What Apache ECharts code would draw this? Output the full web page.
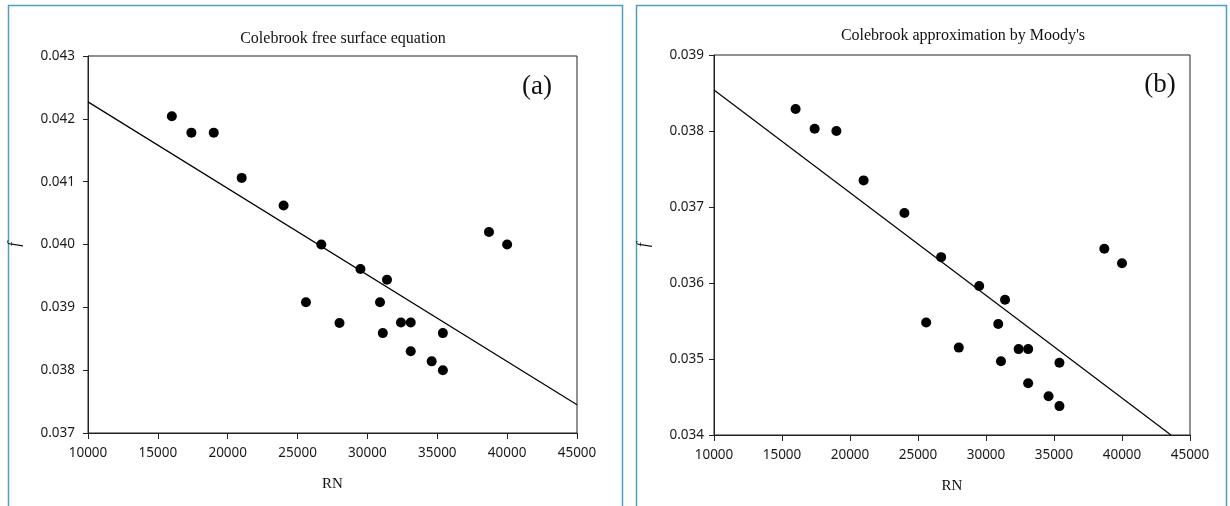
<!DOCTYPE html>
<html>
<head>
<meta charset="utf-8">
<script src="https://cdn.jsdelivr.net/npm/echarts@6/dist/echarts.min.js"></script>
<style>
  html, body { margin: 0; padding: 0; background: #fff; }
  #box { width: 1230px; height: 506px; }
</style>
</head>
<body>
<div id="box"></div>
<script>
// Reynolds numbers (shared by both panels)
const rn = [16000, 17400, 19000, 21000, 24000, 26700, 25600, 28000, 29500, 31400,
            30900, 31100, 32400, 33100, 33100, 34600, 35400, 35400, 38700, 40000]

// (a) Colebrook free surface equation
const fA = [0.04204, 0.04178, 0.04178, 0.04106, 0.04062, 0.04000, 0.03908, 0.03875, 0.03961, 0.03944,
            0.03908, 0.03859, 0.03876, 0.03876, 0.03830, 0.03814, 0.03800, 0.03859, 0.04020, 0.04000]

// (b) Colebrook approximation by Moody's
const fB = [0.03829, 0.03803, 0.03800, 0.03735, 0.03692, 0.03634, 0.03548, 0.03515, 0.03596, 0.03578,
            0.03546, 0.03497, 0.03513, 0.03513, 0.03468, 0.03451, 0.03438, 0.03495, 0.03645, 0.03626]

// trend line end points
const trendAx = [10000, 45000]
const trendAy = [0.04227, 0.03745]
const trendBx = [10000, 43600]
const trendBy = [0.03854, 0.03400]

const xTicks = { min: 10000, max: 45000, interval: 5000 }
const yTicksA = { min: 0.037, max: 0.043, interval: 0.001 }
const yTicksB = { min: 0.034, max: 0.039, interval: 0.001 }

const pair = (xs, ys) => xs.map((x, i) => [x, ys[i]])

const chart = echarts.init(document.getElementById('box'))

const labelFont = { fontFamily: 'Noto Sans', fontSize: 13.5, color: '#1a1a1a' }

function xAxisFor(gridIndex) {
    return {
        type: 'value', gridIndex, ...xTicks,
        name: 'RN', nameLocation: 'middle', nameGap: 44,
        nameTextStyle: { fontFamily: 'Liberation Serif', fontSize: 15, color: '#111' },
        axisLine: { show: true, lineStyle: { color: '#222', width: 1 } },
        axisTick: { show: true, length: 6, lineStyle: { color: '#222' } },
        axisLabel: { ...labelFont, margin: 13, formatter: v => String(v) },
        splitLine: { show: false }
    }
}

function yAxisFor(gridIndex, ticks, margin) {
    return {
        type: 'value', gridIndex, ...ticks,
        name: 'f', nameLocation: 'middle', nameGap: margin + 52, nameRotate: 90,
        nameTextStyle: { fontFamily: 'Liberation Serif', fontStyle: 'italic', fontSize: 16, color: '#111' },
        axisLine: { show: true, lineStyle: { color: '#222', width: 1 } },
        axisTick: { show: true, length: 5, lineStyle: { color: '#222' } },
        axisLabel: { ...labelFont, margin, formatter: v => v.toFixed(3) },
        splitLine: { show: false }
    }
}

const dots = (xi, data) => ({
    type: 'scatter', xAxisIndex: xi, yAxisIndex: xi, data,
    symbol: 'circle', symbolSize: 10, itemStyle: { color: '#000', opacity: 1 }, z: 3
})

const trend = (xi, data) => ({
    type: 'line', xAxisIndex: xi, yAxisIndex: xi, data,
    symbol: 'none', lineStyle: { color: '#000', width: 1.2 }, z: 2
})

chart.setOption({
    animation: false,
    title: [
        { text: 'Colebrook free surface equation', left: 338, top: 26, textAlign: 'center',
          textStyle: { fontFamily: 'Liberation Serif', fontSize: 16, fontWeight: 'normal', color: '#111' } },
        { text: "Colebrook approximation by Moody's", left: 958, top: 23, textAlign: 'center',
          textStyle: { fontFamily: 'Liberation Serif', fontSize: 16, fontWeight: 'normal', color: '#111' } }
    ],
    grid: [
        { left: 88, top: 56, width: 489, height: 377, show: true, borderColor: '#222', borderWidth: 1 },
        { left: 714, top: 55, width: 476, height: 380, show: true, borderColor: '#222', borderWidth: 1 }
    ],
    xAxis: [xAxisFor(0), xAxisFor(1)],
    yAxis: [yAxisFor(0, yTicksA, 13), yAxisFor(1, yTicksB, 10)],
    series: [
        trend(0, pair(trendAx, trendAy)),
        dots(0, pair(rn, fA)),
        trend(1, pair(trendBx, trendBy)),
        dots(1, pair(rn, fB))
    ],
    graphic: [
        { type: 'rect', shape: { x: 8.5, y: 5.5, width: 614, height: 520 }, silent: true,
          style: { fill: 'none', stroke: '#4f9fc4', lineWidth: 1.5 } },
        { type: 'rect', shape: { x: 636.5, y: 5.5, width: 590, height: 520 }, silent: true,
          style: { fill: 'none', stroke: '#4f9fc4', lineWidth: 1.5 } },
        { type: 'text', x: 537, y: 87, silent: true,
          style: { text: '(a)', fontFamily: 'Liberation Serif', fontSize: 27, fill: '#111', align: 'center', verticalAlign: 'middle' } },
        { type: 'text', x: 1160, y: 85, silent: true,
          style: { text: '(b)', fontFamily: 'Liberation Serif', fontSize: 27, fill: '#111', align: 'center', verticalAlign: 'middle' } }
    ]
})
</script>
</body>
</html>
